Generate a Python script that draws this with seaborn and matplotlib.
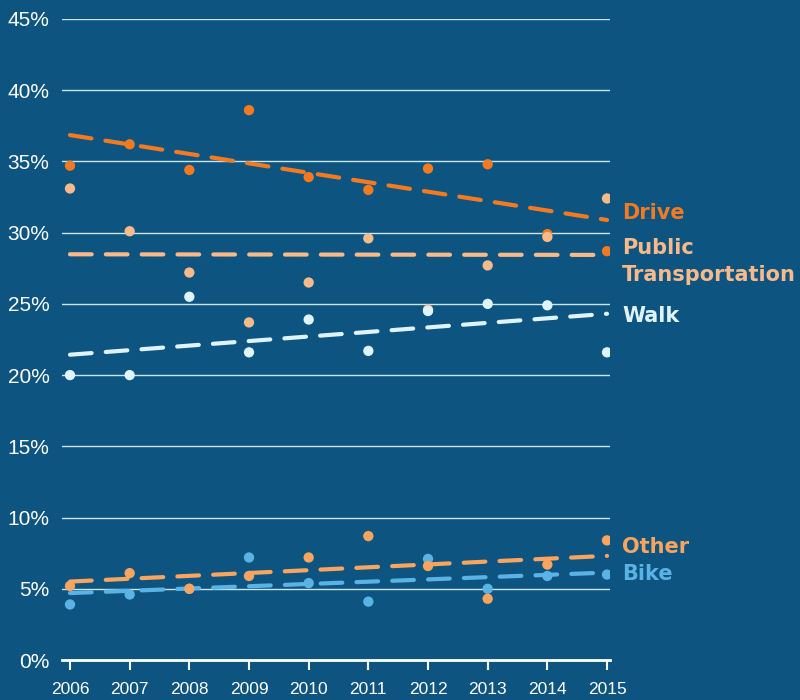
import matplotlib
matplotlib.use("Agg")
import matplotlib.pyplot as plt
import seaborn as sns
import pandas as pd

# Commute mode share by year
years = list(range(2006, 2016))
drive = [34.7, 36.2, 34.4, 38.6, 33.9, 33.0, 34.5, 34.8, 29.9, 28.7]
public = [33.1, 30.1, 27.2, 23.7, 26.5, 29.6, 24.6, 27.7, 29.7, 32.4]
walk = [20.0, 20.0, 25.5, 21.6, 23.9, 21.7, 24.5, 25.0, 24.9, 21.6]
other = [5.2, 6.1, 5.0, 5.9, 7.2, 8.7, 6.6, 4.3, 6.7, 8.4]
bike = [3.9, 4.6, 5.0, 7.2, 5.4, 4.1, 7.1, 5.0, 5.9, 6.0]

modes = ["Drive", "Public Transportation", "Walk", "Bike", "Other"]
series = {"Drive": drive, "Public Transportation": public, "Walk": walk,
          "Bike": bike, "Other": other}
colors = {"Drive": "#f37a20", "Public Transportation": "#f8b98b",
          "Walk": "#dff3fb", "Bike": "#5ab3e4", "Other": "#f9a560"}
# where the end labels sit (y, in %)
label_y = {"Drive": 31.35, "Public Transportation": 28.0, "Walk": 24.15,
           "Other": 7.95, "Bike": 6.05}
label_txt = {"Drive": "Drive", "Public Transportation": "Public\nTransportation",
             "Walk": "Walk", "Other": "Other", "Bike": "Bike"}

df = pd.concat([pd.DataFrame({"year": years, "share": series[m], "mode": m})
                for m in modes], ignore_index=True)

bg = "#0d5580"
plt.rcParams["font.family"] = ["Liberation Sans", "DejaVu Sans"]

fig = plt.figure(figsize=(8, 7), dpi=100, facecolor=bg)
ax = fig.add_axes([0.0775, 0.0571, 0.685, 0.9158])
ax.set_facecolor(bg)

# dashed trend lines (plain OLS fit)
for m in modes:
    sns.regplot(data=df[df["mode"] == m], x="year", y="share", ci=None,
                scatter=False, ax=ax,
                line_kws=dict(color=colors[m], lw=3, dashes=(5.2, 3.4),
                              dash_capstyle="round", zorder=2))

# yearly points on top
sns.scatterplot(data=df, x="year", y="share", hue="mode", palette=colors,
                hue_order=modes, s=55, linewidth=0, legend=False,
                ax=ax, zorder=3)

ax.set_xlim(2005.866, 2015.05)
ax.set_ylim(0, 45)
ax.set_xticks(years)
ax.set_yticks(range(0, 50, 5))
ax.set_yticklabels([f"{v}%" for v in range(0, 50, 5)])
ax.set_xlabel("")
ax.set_ylabel("")

for v in range(5, 50, 5):
    ax.axhline(v, color="#c9e4f2", lw=1, zorder=1)

for s in ["top", "right", "left"]:
    ax.spines[s].set_visible(False)
ax.spines["bottom"].set_color("white")
ax.spines["bottom"].set_linewidth(2)

ax.tick_params(axis="y", length=0, pad=9, labelsize=15, labelcolor="white")
ax.tick_params(axis="x", length=7, width=1.5, color="white", pad=9,
               labelsize=12.5, labelcolor="white")

for m in modes:
    ax.text(1.022, label_y[m], label_txt[m], transform=ax.get_yaxis_transform(),
            color=colors[m], fontsize=15, fontweight="bold", ha="left",
            va="center", linespacing=1.45, family="DejaVu Sans")

fig.savefig("out.png", dpi=100, facecolor=bg)
